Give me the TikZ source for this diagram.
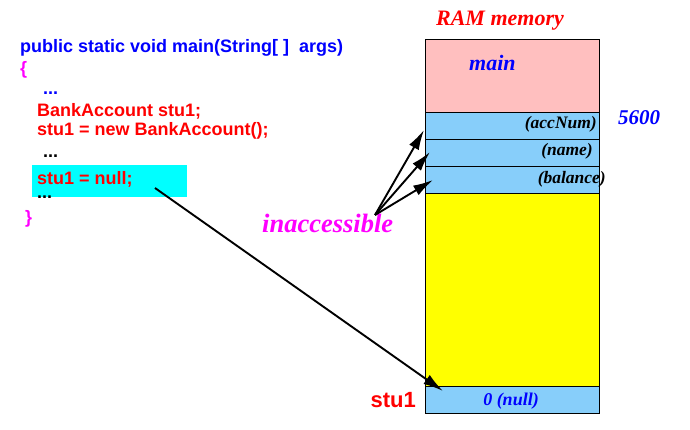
\documentclass[tikz,border=0pt]{standalone}
\usepackage{fontspec}
\setmainfont{Liberation Serif}
\setsansfont{Liberation Sans}
\usepackage{tikz}
\usetikzlibrary{arrows.meta, positioning}

\definecolor{framepink}{RGB}{255,191,191}
\definecolor{fieldblue}{RGB}{135,206,250}
\definecolor{heapyellow}{RGB}{255,255,0}
\definecolor{hilitecyan}{RGB}{0,255,255}
\definecolor{puremagenta}{RGB}{255,0,255}
\definecolor{purered}{RGB}{255,0,0}
\definecolor{pureblue}{RGB}{0,0,255}

\begin{document}
\begin{tikzpicture}[x=1pt, y=-1pt,
    cell/.style={draw, line width=0.8pt, minimum width=174pt, inner sep=0pt, outer sep=0pt},
    code/.style={font=\sffamily\bfseries\fontsize{18}{20}\selectfont, anchor=base west, inner sep=0pt},
    tag/.style={font=\bfseries\itshape\fontsize{17.5}{20}\selectfont, anchor=base east, inner sep=0pt},
    ptr/.style={-{Latex[length=20pt, width=11pt]}, line width=1.9pt}]
  \useasboundingbox (0,0) rectangle (690,430);

  \node[cell, fill=framepink, minimum height=73pt, anchor=north west] (mainframe) at (425,39) {};
  \node[cell, fill=fieldblue, minimum height=27pt, below=0pt of mainframe] (accnum) {};
  \node[cell, fill=fieldblue, minimum height=27pt, below=0pt of accnum] (name) {};
  \node[cell, fill=fieldblue, minimum height=27pt, below=0pt of name] (balance) {};
  \node[cell, fill=heapyellow, minimum height=193pt, below=0pt of balance] (heap) {};
  \node[cell, fill=fieldblue, minimum height=27pt, below=0pt of heap] (stuvar) {};

  \node[font=\bfseries\itshape\fontsize{22}{24}\selectfont, text=purered, anchor=base, inner sep=0pt] (ramtitle) at (500,26) {RAM memory};
  \node[font=\bfseries\itshape\fontsize{22}{24}\selectfont, text=pureblue, anchor=base west, inner sep=0pt] (mainlabel) at (469,71) {main};
  \node[font=\bfseries\itshape\fontsize{21}{24}\selectfont, text=pureblue, anchor=base west, inner sep=0pt] (addr) at (618,125) {5600};
  \node[tag] (accnumtag) at (597,129) {(accNum)};
  \node[tag] (nametag) at (593,156) {(name)};
  \node[tag] (balancetag) at (606,184) {(balance)};
  \node[font=\bfseries\itshape\fontsize{18}{20}\selectfont, text=pureblue, anchor=base, inner sep=0pt] (nulltag) at (511,405) {0 (null)};
  \node[font=\sffamily\bfseries\fontsize{22}{24}\selectfont, text=purered, anchor=base east, inner sep=0pt] (stuname) at (416,407) {stu1};
  \node[font=\bfseries\itshape\fontsize{26.5}{28}\selectfont, text=puremagenta, anchor=base west, inner sep=0pt] (inacc) at (262,233) {inaccessible};

  \node[fill=hilitecyan, minimum width=155pt, minimum height=32pt, inner sep=0pt, anchor=north west] (hilite) at (32,165) {};
  \node[code, text=pureblue] (sig) at (20,53) {public static void main(String[ ]\ \ args)};
  \node[code, text=puremagenta] (openbr) at (20,75) {\{};
  \node[code, text=pureblue] (dots1) at (43,95) {...};
  \node[code, text=purered] (decl) at (37,117) {BankAccount stu1;};
  \node[code, text=purered] (alloc) at (37,136) {stu1 = new BankAccount();};
  \node[code] (dots2) at (43,158) {...};
  \node[code, text=purered] (setnull) at (37,185) {stu1 = null;};
  \node[code] (dots3) at (37,199) {...};
  \node[code, text=puremagenta] (closebr) at (25,224) {\}};

  \coordinate (hub) at (375,215);
  \coordinate (fromnull) at (155,188);
  \coordinate (accnumend) at (424,130);
  \coordinate (nameend) at (430,152);
  \coordinate (balanceend) at (433,180);
  \coordinate (stuend) at (443,391);
  \draw[ptr] (hub) -- (accnumend);
  \draw[ptr] (hub) -- (nameend);
  \draw[ptr] (hub) -- (balanceend);
  \draw[ptr] (fromnull) -- (stuend);
\end{tikzpicture}
\end{document}
